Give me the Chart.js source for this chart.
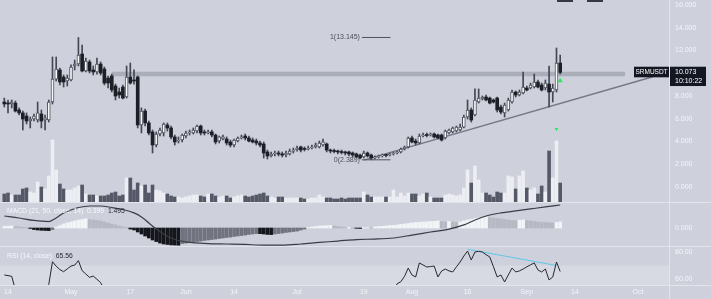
<!DOCTYPE html>
<html lang="en">
<head>
<meta charset="UTF-8">
<title>SRMUSDT</title>
<script src="https://cdn.jsdelivr.net/npm/chart.js"></script>
<style>
  html, body { margin: 0; padding: 0; background: #ced1dc; }
  #wrap { position: relative; width: 711px; height: 299px; overflow: hidden; background: #ced1dc;
          font-family: 'Liberation Sans', Arial, sans-serif; }
  canvas { position: absolute; left: 0; }
  .sep { position: absolute; background: #e3e5eb; }
  .legend { position: absolute; left: 7px; font-size: 6.8px; line-height: 8px; color: #f6f7fa; white-space: nowrap; }
  .legend b { font-weight: normal; color: #262932; }
  .icon { position: absolute; top: 0; height: 2px; width: 16px; background: #363945; }
</style>
</head>
<body>
<div id="wrap">
  <canvas id="main" width="711" height="202" style="top:0"></canvas>
  <canvas id="macd" width="711" height="43" style="top:203px"></canvas>
  <canvas id="rsi" width="711" height="52" style="top:247px"></canvas>
  <div class="sep" style="left:0;top:202px;width:711px;height:1px"></div>
  <div class="sep" style="left:0;top:246px;width:711px;height:1px"></div>
  <div class="sep" style="left:0;top:285px;width:711px;height:1px"></div>
  <div class="sep" style="left:669px;top:0;width:1px;height:299px"></div>
  <div class="icon" style="left:557px"></div>
  <div class="icon" style="left:587px"></div>
  <div class="legend" style="top:207px">MACD (21, 50, close, 14)&nbsp; 0.399&nbsp; <b>1.495</b></div>
  <div class="legend" style="top:252px">RSI (14, close)&nbsp; <b>65.56</b></div>
</div>
<script>
// daily candles, day 0 = Apr 13
const opens = [
  7.47,7.38,7.30,7.38,6.77,6.51,6.24,5.80,5.98,5.89,
  6.42,5.89,5.89,7.47,9.49,10.29,9.67,9.32,9.41,10.64,
  10.81,11.69,10.20,10.99,10.29,10.11,10.81,10.37,9.58,9.76,
  8.88,8.35,8.79,7.91,9.67,9.41,9.67,5.45,6.68,5.63,
  4.84,3.69,4.66,4.75,5.45,5.19,4.40,4.04,4.13,4.48,
  4.75,4.75,4.92,5.36,4.84,4.75,4.84,4.57,4.04,4.22,
  4.22,3.96,3.69,4.04,4.31,4.48,4.31,4.13,4.04,3.87,
  3.78,3.08,2.73,2.90,2.99,2.90,2.81,2.90,3.16,3.25,
  3.52,3.34,3.34,3.43,3.52,3.52,3.69,3.78,3.25,3.16,
  3.16,3.08,3.08,3.08,2.99,2.90,2.81,2.64,2.99,2.81,
  2.55,2.64,2.73,2.81,2.81,2.90,2.99,3.08,3.34,3.52,
  4.31,4.04,3.87,4.48,4.57,4.57,4.66,4.57,4.57,4.31,
  4.75,4.84,4.92,5.01,5.27,6.15,6.77,6.33,7.47,7.74,
  7.91,7.82,7.65,7.82,7.03,6.51,6.77,7.47,8.35,8.09,
  8.26,8.70,8.70,8.79,9.23,8.97,8.70,9.05,8.35,8.53,
  10.90
];
const highs = [
  7.82,7.65,7.65,7.56,6.95,6.68,6.51,6.15,6.42,7.47,
  6.77,6.33,7.65,11.43,11.43,10.46,9.85,9.85,10.73,11.16,
  13.145,12.48,11.34,11.16,10.64,11.34,10.99,10.55,9.76,9.93,
  9.05,8.70,8.97,10.64,10.90,10.29,9.76,6.95,6.86,5.80,
  5.01,4.84,5.19,5.63,5.63,5.36,4.57,4.40,4.66,4.92,
  5.01,5.19,5.45,5.45,5.01,5.01,5.01,4.66,4.48,4.57,
  4.40,4.13,4.22,4.40,4.57,4.66,4.48,4.31,4.22,4.04,
  3.96,3.25,3.08,3.16,3.16,3.08,3.16,3.34,3.43,3.60,
  3.60,3.52,3.60,3.69,3.87,4.04,4.22,3.87,3.34,3.34,
  3.25,3.25,3.16,3.16,3.08,2.99,2.90,3.16,3.08,2.90,
  2.73,2.81,2.90,2.90,2.99,3.08,3.16,3.43,3.60,4.40,
  4.48,4.22,4.66,4.75,4.75,4.75,4.75,4.66,4.66,5.01,
  5.10,5.27,5.36,5.54,6.33,7.65,6.95,8.62,8.62,8.00,
  8.09,7.91,7.74,7.91,7.21,7.38,7.82,8.53,8.44,8.53,
  10.11,8.88,9.14,9.93,9.41,9.14,9.41,10.64,9.05,12.22,
  11.60
];
const lows = [
  7.03,6.51,6.95,6.59,6.33,5.01,5.54,5.19,5.80,5.71,
  5.19,5.01,5.71,7.30,9.32,8.97,8.79,8.88,9.32,10.29,
  10.64,10.11,10.11,10.02,9.85,9.93,9.85,8.97,8.70,8.35,
  7.65,7.82,7.74,7.82,9.05,9.05,5.19,4.75,5.36,4.57,
  2.99,3.52,4.48,4.48,4.92,4.22,3.69,3.87,3.96,4.31,
  4.57,4.66,4.75,4.57,4.57,4.66,4.40,3.78,3.87,4.13,
  3.69,3.52,3.52,3.96,4.22,4.13,3.96,3.87,3.69,3.52,
  2.55,2.46,2.64,2.73,2.73,2.64,2.64,2.81,2.99,3.16,
  3.08,3.16,3.25,3.34,3.43,3.43,3.60,3.08,2.99,2.99,
  2.90,2.90,2.81,2.73,2.64,2.55,2.46,2.55,2.64,2.389,
  2.46,2.55,2.64,2.64,2.73,2.81,2.90,2.99,3.25,3.43,
  3.87,3.69,3.78,4.40,4.40,4.48,4.31,4.22,4.04,4.22,
  4.66,4.75,4.84,4.92,5.19,5.98,5.71,6.24,7.38,7.65,
  7.56,7.30,7.38,6.59,6.42,6.15,6.68,7.38,7.91,8.00,
  8.18,8.44,8.62,8.70,8.70,8.44,8.53,7.03,7.47,8.35,
  9.93
];
const closes = [
  7.30,7.30,7.47,6.68,6.51,5.98,5.80,5.98,6.24,6.51,
  5.80,6.07,7.47,9.49,10.37,9.23,9.23,9.58,10.55,10.81,
  11.60,10.20,11.08,10.20,10.11,10.81,10.02,9.14,9.14,8.53,
  8.00,8.09,7.82,9.67,9.14,9.32,5.45,6.68,5.63,4.75,
  3.69,4.66,5.01,5.54,5.19,4.40,3.96,4.13,4.57,4.75,
  4.84,5.01,5.36,4.75,4.75,4.84,4.57,3.96,4.40,4.40,
  3.87,3.69,4.13,4.31,4.40,4.31,4.04,3.96,3.87,3.69,
  2.99,2.73,2.90,2.99,2.90,2.81,2.99,3.16,3.25,3.43,
  3.25,3.30,3.43,3.52,3.69,3.87,3.96,3.25,3.16,3.12,
  3.08,3.03,2.99,2.90,2.81,2.64,2.55,2.99,2.73,2.55,
  2.64,2.73,2.81,2.77,2.90,2.99,3.08,3.34,3.52,4.31,
  3.96,3.87,4.48,4.57,4.53,4.62,4.40,4.31,4.13,4.92,
  5.01,5.19,5.27,5.27,6.15,6.77,5.89,7.65,7.82,7.91,
  7.65,7.38,7.47,6.77,6.59,7.21,7.65,8.35,8.09,8.35,
  8.79,8.53,8.97,9.23,8.79,8.53,9.14,8.35,8.70,10.90,
  10.073
];
const volumes = [
  8,9,7,7,7,13,14,10,9,20,
  15,13,26,62,32,18,13,12,12,14,
  16,17,8,7,7,6,6,6,7,9,
  10,6,7,24,24,12,19,16,17,9,
  17,12,11,9,8,6,5,5,4,5,
  6,7,7,6,5,8,8,6,5,6,
  6,4,5,6,7,6,5,6,7,8,
  9,6,5,4,5,5,4,4,4,4,
  4,3,3,4,4,7,5,4,4,3,
  3,4,3,4,4,4,4,10,7,5,
  5,5,5,5,5,12,5,9,6,9,
  8,8,6,8,9,5,4,4,4,7,
  8,7,6,7,14,32,19,36,22,9,
  9,7,5,10,9,9,26,25,13,26,
  31,14,12,14,8,16,10,51,24,61,
  19
];
const macdHist = [
  0.10,0.12,0.13,0.10,0.07,0.05,0.03,-0.03,-0.10,-0.13,
  -0.15,-0.16,-0.17,-0.10,0.07,0.16,0.26,0.33,0.39,0.46,
  0.52,0.55,0.59,0.55,0.52,0.49,0.46,0.39,0.33,0.26,
  0.20,0.13,0.07,0.03,-0.07,-0.13,-0.26,-0.39,-0.52,-0.65,
  -0.78,-0.88,-0.98,-1.04,-1.07,-1.10,-1.11,-1.12,-1.01,-0.98,
  -0.94,-0.91,-0.88,-0.85,-0.81,-0.78,-0.75,-0.72,-0.68,-0.65,
  -0.62,-0.59,-0.55,-0.52,-0.49,-0.46,-0.42,-0.39,-0.36,-0.37,
  -0.39,-0.42,-0.43,-0.39,-0.36,-0.33,-0.29,-0.26,-0.23,-0.20,
  -0.13,-0.07,0.03,0.07,0.10,0.13,0.14,0.16,0.17,0.13,
  0.10,0.07,0.03,0.04,0.02,-0.02,-0.03,0.02,0.03,0.02,
  0.07,0.10,0.11,0.13,0.16,0.17,0.20,0.23,0.26,0.29,
  0.33,0.36,0.37,0.39,0.40,0.42,0.43,0.46,0.42,0.39,
  0.42,0.39,0.36,0.39,0.46,0.52,0.55,0.62,0.65,0.68,
  0.72,0.68,0.65,0.62,0.59,0.55,0.52,0.49,0.48,0.50,
  0.52,0.49,0.46,0.42,0.39,0.38,0.36,0.35,0.33,0.36,
  0.399
];
const macdDays = [0,4,8,12,14,16,18,20,23,26,29,32,35,37,39,41,43,45,47,50,
  55,60,65,70,75,80,85,90,95,100,105,110,115,120,124,127,130,134,138,142,146,150];
const macdLine = [0.78,0.65,0.49,0.42,0.65,0.98,1.17,1.33,1.43,1.43,1.33,1.20,0.98,0.72,0.33,-0.07,-0.39,-0.65,-0.81,-0.94,
  -1.01,-1.04,-1.07,-1.11,-1.11,-1.04,-0.94,-0.85,-0.75,-0.72,-0.65,-0.46,-0.26,-0.07,0.20,0.52,0.78,0.98,1.11,1.24,1.37,1.495];

const rsiDays = [0,1,2,3,6,
  11,12,13,14,15,16,17,18,19,20,21,22,23,24,25,26,27,60,
  105,106,107,108,109,110,111,112,113,114,115,116,117,118,119,120,121,122,123,124,125,126,127,128,129,
  130,131,132,133,134,135,136,137,138,139,140,141,142,143,144,145,146,147,148,149,150];
const rsiValues = [63,62.5,62,52,null,
  50,56,72.8,69.5,67,65.4,67.5,69.6,70.3,73.6,66.2,63.7,61.2,62.2,59.8,57.3,52,null,
  50,56.5,58,62,68.1,63,61.5,71.9,70.4,68.9,69.2,69.6,61.5,65.9,67.4,66,65.2,69,72.6,77,80.7,74.1,80,80.5,80,
  78,76.3,69,61.5,63,57.8,63,68.1,65.2,66,67.4,69,70.5,71.9,66.7,65.2,67.4,59.3,61.5,72.6,65.56];
const rsiBand = [30, 70];
const divergenceDays = [125, 149];
const divergenceValues = [82, 70];

const priceTicks = [0, 2, 4, 6, 8, 10, 12, 14, 16];
const macdTicks = [0];
const rsiTicks = [60, 80];
const tickDays = [1, 18, 34, 49, 62, 79, 97, 110, 125, 141, 154, 171];
const tickLabels = ['14', 'May', '17', 'Jun', '14', 'Jul', '19', 'Aug', '16', 'Sep', '14', 'Oct'];

const resistance = 9.93;
const resistanceDays = [29, 167.5];
const trendDays = [97, 175];
const trendPrices = [2.36, 9.70];
const fibLevels = [13.145, 2.389];
const fibTexts = ['1(13.145)', '0(2.389)'];
const fibDays = [96.5, 104.2];
const signalUp = {x: 150, y: 9.35};
const signalDown = {x: 149, y: 5.10};
const symbol = 'SRMUSDT';
const countdown = '10:10:22';

// view window
const viewStart = -1.16, viewEnd = 179.36;
const family = "'Liberation Sans', Arial, sans-serif";
const axisText = '#f4f5f8';

Chart.defaults.font.family = family;
Chart.defaults.animation = false;
Chart.defaults.events = [];
Chart.defaults.plugins.legend.display = false;
Chart.defaults.plugins.tooltip.enabled = false;

const days = closes.map((_, i) => i);
const isUp = days.map(i => closes[i] >= opens[i]);
const noPad = {padding: 0, autoPadding: false};

function timeAxis(show) {
  return {
    type: 'linear', min: viewStart, max: viewEnd, offset: false, display: show,
    grid: {display: false, drawTicks: false}, border: {display: false},
    afterBuildTicks: s => { s.ticks = tickDays.map(v => ({value: v})); },
    afterFit: s => {
      s.height = show ? 14 : 0;
      s.paddingLeft = 0; s.paddingRight = 0;
    },
    ticks: {autoSkip: false, maxRotation: 0, padding: 3, color: axisText, font: {size: 7},
      callback: (v, i) => tickLabels[i]}
  };
}

function rightAxis(min, max, ticks, digits) {
  return {
    position: 'right', min, max,
    grid: {display: false, drawTicks: false}, border: {display: false},
    afterBuildTicks: s => { s.ticks = ticks.map(v => ({value: v})); },
    afterFit: s => { s.width = 42; s.paddingTop = 0; s.paddingBottom = 0; },
    ticks: {padding: 6, color: axisText, font: {size: 7}, callback: v => Number(v).toFixed(digits)}
  };
}

const barBase = {type: 'bar', grouped: false, barPercentage: 1, categoryPercentage: 1};
const plain = {type: 'line', pointRadius: 0, pointHoverRadius: 0, fill: false};

const mainLabels = {
  id: 'mainLabels',
  afterDatasetsDraw(chart) {
    const {ctx, scales: {x, y}} = chart;
    ctx.save();
    ctx.font = '7px ' + family;
    ctx.fillStyle = '#4b4e58';
    ctx.textAlign = 'right';
    ctx.textBaseline = 'middle';
    fibLevels.forEach((p, k) => ctx.fillText(fibTexts[k], x.getPixelForValue(fibDays[0]) - 2, y.getPixelForValue(p)));
    ctx.restore();
  },
  afterDraw(chart) {
    const {ctx, chartArea, scales: {y}} = chart;
    const last = closes[closes.length - 1];
    const top = y.getPixelForValue(last) - 5.7;
    const r = chartArea.right;
    ctx.save();
    ctx.fillStyle = '#131722';
    ctx.fillRect(r - 35, top, 35, 10.6);
    ctx.fillRect(r, top, 37, 19.3);
    ctx.fillStyle = '#ffffff';
    ctx.font = '6.5px ' + family;
    ctx.textBaseline = 'middle';
    ctx.textAlign = 'center';
    ctx.fillText(symbol, r - 17.5, top + 5.4);
    ctx.font = '7px ' + family;
    ctx.textAlign = 'left';
    ctx.fillText(last.toFixed(3), r + 6, top + 5.4);
    ctx.fillText(countdown, r + 6, top + 14.6);
    ctx.restore();
  }
};

new Chart(document.getElementById('main'), {
  type: 'bar',
  data: {datasets: [
    {...barBase, yAxisID: 'yVol', order: 10, maxBarThickness: 3,
      data: days.map(i => ({x: i, y: volumes[i]})),
      backgroundColor: days.map(i => isUp[i] ? '#eceef3' : '#555866')},
    {...plain, order: 8, borderColor: 'rgba(158,161,174,0.75)', borderWidth: 4.5,
      data: resistanceDays.map(d => ({x: d, y: resistance}))},
    {...plain, order: 5, borderColor: '#777a86', borderWidth: 1.5,
      data: trendDays.map((d, k) => ({x: d, y: trendPrices[k]}))},
    ...fibLevels.map(p => ({...plain, order: 4, borderColor: '#50535d', borderWidth: 1,
      data: fibDays.map(d => ({x: d, y: p}))})),
    {...barBase, order: 3, maxBarThickness: 1, backgroundColor: '#454854',
      data: days.map(i => ({x: i, y: [lows[i], highs[i]]}))},
    {...barBase, order: 2, maxBarThickness: 3, minBarLength: 1, borderSkipped: false,
      data: days.map(i => ({x: i, y: [opens[i], closes[i]]})),
      backgroundColor: days.map(i => isUp[i] ? '#f6f7f9' : '#1d1f27'),
      borderColor: days.map(i => isUp[i] ? '#50535e' : '#1d1f27'),
      borderWidth: days.map(i => isUp[i] ? 1 : 0)},
    {type: 'line', order: 1, showLine: false, data: [signalUp], pointStyle: 'triangle',
      pointRadius: 3, backgroundColor: '#2ee65d', borderWidth: 0},
    {type: 'line', order: 1, showLine: false, data: [signalDown], pointStyle: 'triangle', rotation: 180,
      pointRadius: 2.2, backgroundColor: '#2ee65d', borderWidth: 0}
  ]},
  options: {
    responsive: false,
    layout: noPad,
    scales: {
      x: timeAxis(false),
      y: rightAxis(-1.319, 16.44, priceTicks, 3),
      yVol: {position: 'left', display: false, min: 0, max: 202}
    }
  },
  plugins: [mainLabels]
});

const histColors = macdHist.map((v, i) => {
  const prev = i > 0 ? macdHist[i - 1] : v;
  if (v >= 0) return v >= prev ? '#f3f4f7' : '#b6b9c3';
  return v < prev ? '#15161b' : '#71747f';
});

new Chart(document.getElementById('macd'), {
  type: 'bar',
  data: {datasets: [
    {...plain, order: 1, borderColor: '#3a3d47', borderWidth: 1.2, cubicInterpolationMode: 'monotone',
      data: macdDays.map((d, k) => ({x: d, y: macdLine[k]}))},
    {...barBase, order: 2, maxBarThickness: 3, backgroundColor: histColors,
      data: days.map(i => ({x: i, y: macdHist[i]}))}
  ]},
  options: {
    responsive: false,
    layout: noPad,
    scales: {x: timeAxis(false), y: rightAxis(-1.17, 1.625, macdTicks, 3)}
  }
});

const bandPlugin = {
  id: 'rsiBand',
  beforeDatasetsDraw(chart) {
    const {ctx, chartArea: a, scales: {y}} = chart;
    const t = y.getPixelForValue(rsiBand[1]);
    const b = y.getPixelForValue(rsiBand[0]);
    ctx.save();
    ctx.beginPath();
    ctx.rect(a.left, a.top, a.right - a.left, a.bottom - a.top);
    ctx.clip();
    ctx.fillStyle = 'rgba(255,255,255,0.2)';
    ctx.fillRect(a.left, t, a.right - a.left, b - t);
    ctx.restore();
  }
};

new Chart(document.getElementById('rsi'), {
  type: 'line',
  data: {datasets: [
    {...plain, borderColor: '#25272f', borderWidth: 1, spanGaps: false,
      data: rsiDays.map((d, k) => ({x: d, y: rsiValues[k]}))},
    {...plain, borderColor: '#5fc6ea', borderWidth: 1,
      data: divergenceDays.map((d, k) => ({x: d, y: divergenceValues[k]}))}
  ]},
  options: {
    responsive: false,
    layout: noPad,
    scales: {x: timeAxis(true), y: rightAxis(55.56, 83.7, rsiTicks, 2)}
  },
  plugins: [bandPlugin]
});
</script>
</body>
</html>
